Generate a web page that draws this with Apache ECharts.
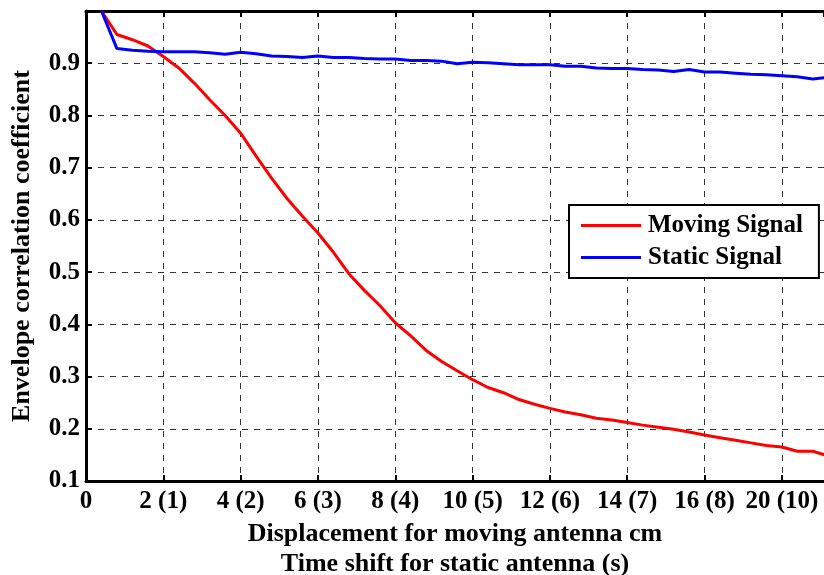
<!DOCTYPE html>
<html>
<head>
<meta charset="utf-8">
<script src="https://cdn.jsdelivr.net/npm/echarts@6/dist/echarts.min.js"></script>
<style>html,body{margin:0;padding:0;background:#fff}#c{width:824px;height:575px}</style>
</head>
<body>
<div id="c"></div>
<script>
var xValues = [0.4,0.8,1.2,1.6,2.0,2.4,2.8,3.2,3.6,4.0,4.4,4.8,5.2,5.6,6.0,6.4,6.8,7.2,7.6,8.0,8.4,8.8,9.2,9.6,10.0,10.4,10.8,11.2,11.6,12.0,12.4,12.8,13.2,13.6,14.0,14.4,14.8,15.2,15.6,16.0,16.4,16.8,17.2,17.6,18.0,18.4,18.8,19.2];
var movingSignal = [1.0,0.955,0.945,0.933,0.913,0.891,0.862,0.830,0.800,0.766,0.722,0.680,0.641,0.607,0.575,0.538,0.497,0.465,0.436,0.403,0.378,0.350,0.329,0.311,0.294,0.279,0.269,0.256,0.247,0.239,0.232,0.227,0.220,0.217,0.212,0.207,0.203,0.199,0.194,0.188,0.183,0.178,0.173,0.168,0.165,0.157,0.157,0.148];
var staticSignal = [1.0,0.928,0.925,0.923,0.922,0.922,0.922,0.920,0.917,0.921,0.918,0.914,0.913,0.911,0.914,0.911,0.911,0.909,0.908,0.908,0.905,0.905,0.904,0.899,0.902,0.901,0.899,0.897,0.897,0.897,0.894,0.894,0.891,0.890,0.890,0.888,0.887,0.884,0.888,0.883,0.883,0.881,0.879,0.878,0.876,0.874,0.870,0.873];
var xTickValues = [0,2,4,6,8,10,12,14,16,18];
var xTickLabels = ["0","2 (1)","4 (2)","6 (3)","8 (4)","10 (5)","12 (6)","14 (7)","16 (8)","20 (10)"];
var yTickLabels = ["0.1","0.2","0.3","0.4","0.5","0.6","0.7","0.8","0.9"];

var FONT = '"Liberation Serif", "DejaVu Serif", serif';
function pairs(ys){ return xValues.map(function(x,i){ return [x, ys[i]]; }); }

var chart = echarts.init(document.getElementById('c'), null, {renderer:'canvas'});
chart.setOption({
  backgroundColor:'#fff',
  animation:false,
  grid:{left:86, top:11, right:0, bottom:94, containLabel:false, outerBoundsMode:'none'},
  legend:{
    left:569, top:205, orient:'vertical',
    padding:[8,16,8,12],
    itemGap:7,
    itemWidth:60, itemHeight:3,
    icon:'rect',
    backgroundColor:'#fff', borderColor:'#000', borderWidth:2,
    textStyle:{fontFamily:FONT, fontWeight:'bold', fontSize:25, color:'#000', padding:[0,0,0,2]},
    data:['Moving Signal','Static Signal']
  },
  xAxis:[{
    type:'value', min:0, max:19.09, interval:2,
    name:'Displacement for moving antenna cm\nTime shift for static antenna (s)',
    nameLocation:'middle', nameGap:34,
    nameTextStyle:{fontFamily:FONT, fontWeight:'bold', fontSize:26, color:'#000', lineHeight:30, verticalAlign:'top'},
    axisLine:{show:true, onZero:false, lineStyle:{color:'#000', width:3}},
    axisTick:{show:true, inside:true, length:6, lineStyle:{color:'#000', width:2}},
    axisLabel:{show:true, margin:8, showMaxLabel:false, hideOverlap:false, fontFamily:FONT, fontWeight:'bold', fontSize:25, color:'#000',
      formatter:function(v){ var i = xTickValues.indexOf(Math.round(v*1000)/1000); return i>=0 ? xTickLabels[i] : ''; }},
    splitLine:{show:true, lineStyle:{color:'#333', width:1, type:[6,6]}}
  },{
    type:'value', min:0, max:19.09, interval:2, position:'top',
    axisLine:{show:true, onZero:false, lineStyle:{color:'#000', width:3}},
    axisTick:{show:true, inside:true, length:6, lineStyle:{color:'#000', width:2}},
    axisLabel:{show:false}, splitLine:{show:false}
  }],
  yAxis:{
    type:'value', min:0.1, max:1.0, interval:0.1,
    name:'Envelope correlation coefficient',
    nameLocation:'middle', nameGap:51, nameRotate:90,
    nameTextStyle:{fontFamily:FONT, fontWeight:'bold', fontSize:26, color:'#000'},
    axisLine:{show:true, onZero:false, lineStyle:{color:'#000', width:3}},
    axisTick:{show:true, inside:true, length:6, lineStyle:{color:'#000', width:2}},
    axisLabel:{show:true, margin:6, showMaxLabel:false, fontFamily:FONT, fontWeight:'bold', fontSize:25, color:'#000',
      formatter:function(v){ var s = v.toFixed(1); return yTickLabels.indexOf(s)>=0 ? s : ''; }},
    splitLine:{show:true, lineStyle:{color:'#333', width:1, type:[6,6]}}
  },
  series:[{
    name:'Moving Signal', type:'line', data:pairs(movingSignal), showSymbol:false, symbol:'none', clip:true,
    lineStyle:{color:'#ff0000', width:3}, itemStyle:{color:'#ff0000'}
  },{
    name:'Static Signal', type:'line', data:pairs(staticSignal), showSymbol:false, symbol:'none', clip:true,
    lineStyle:{color:'#0000ff', width:3}, itemStyle:{color:'#0000ff'}
  }]
});
</script>
</body>
</html>
